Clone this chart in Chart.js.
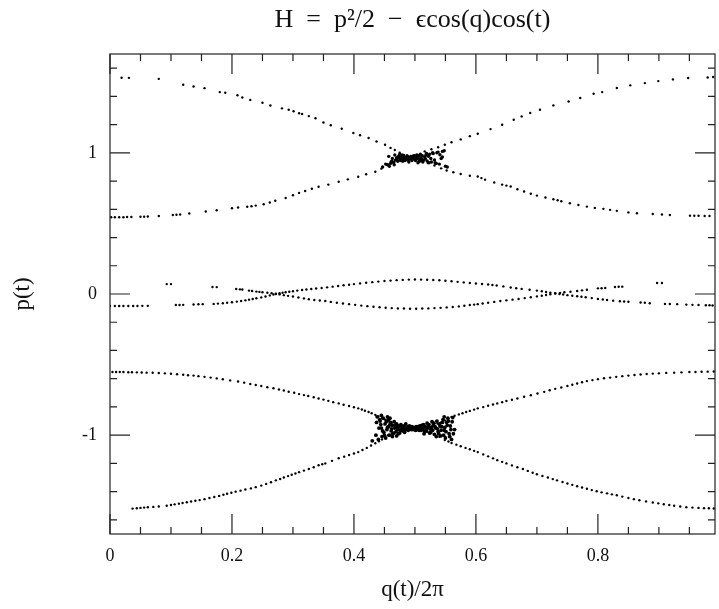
<!DOCTYPE html>
<html>
<head>
<meta charset="utf-8">
<script src="https://cdn.jsdelivr.net/npm/chart.js@4.4.1/dist/chart.umd.min.js"></script>
<style>
  html, body { margin: 0; padding: 0; background: #fff; }
  #wrap { width: 719px; height: 609px; }
</style>
</head>
<body>
<div id="wrap"><canvas id="chart"></canvas></div>
<script>
// tick labels
const xTickValues = [0, 0.2, 0.4, 0.6, 0.8];
const yTickValues = [-1, 0, 1];

// Poincare section as [q/2pi, p]
// upper resonance (around p = 1)
const upperFallLeft = [
  [0.019, 1.532], [0.031, 1.531], [0.080, 1.524], [0.120, 1.482], [0.137, 1.470],
  [0.155, 1.458], [0.180, 1.430], [0.189, 1.425], [0.209, 1.408], [0.217, 1.392],
  [0.230, 1.375], [0.250, 1.355], [0.263, 1.335], [0.282, 1.315], [0.293, 1.305],
  [0.301, 1.295], [0.310, 1.280], [0.315, 1.275], [0.326, 1.260], [0.337, 1.245],
  [0.350, 1.215], [0.362, 1.195], [0.380, 1.170], [0.399, 1.140], [0.410, 1.125],
  [0.424, 1.105], [0.437, 1.080], [0.451, 1.057], [0.460, 1.035], [0.467, 1.020],
  [0.475, 1.000], [0.482, 0.985]
];
const upperFallRight = [
  [0.500, 0.950], [0.510, 0.940], [0.521, 0.928], [0.532, 0.910], [0.543, 0.890],
  [0.552, 0.875], [0.563, 0.862], [0.575, 0.850], [0.590, 0.838], [0.603, 0.832],
  [0.609, 0.821], [0.615, 0.810], [0.630, 0.790], [0.643, 0.775], [0.650, 0.768],
  [0.657, 0.761], [0.668, 0.742], [0.679, 0.726], [0.690, 0.710], [0.700, 0.697],
  [0.714, 0.684], [0.727, 0.671], [0.734, 0.664], [0.740, 0.657], [0.754, 0.643],
  [0.768, 0.630], [0.782, 0.619], [0.795, 0.610], [0.809, 0.603], [0.820, 0.596],
  [0.831, 0.589], [0.850, 0.578], [0.864, 0.572], [0.890, 0.567], [0.905, 0.563],
  [0.918, 0.560], [0.951, 0.555], [0.958, 0.554], [0.965, 0.554], [0.975, 0.553],
  [0.983, 0.553]
];
const upperRiseLeft = [
  [0.002, 0.544], [0.008, 0.544], [0.015, 0.544], [0.022, 0.544], [0.028, 0.545],
  [0.035, 0.545], [0.050, 0.547], [0.056, 0.548], [0.062, 0.549], [0.080, 0.552],
  [0.103, 0.560], [0.109, 0.561], [0.115, 0.563], [0.130, 0.570], [0.157, 0.584],
  [0.175, 0.593], [0.200, 0.607], [0.210, 0.613], [0.225, 0.618], [0.232, 0.622],
  [0.239, 0.626], [0.252, 0.636], [0.262, 0.648], [0.271, 0.660], [0.288, 0.680],
  [0.300, 0.700], [0.310, 0.716], [0.320, 0.730], [0.331, 0.745], [0.342, 0.760],
  [0.358, 0.775], [0.375, 0.795], [0.390, 0.812], [0.407, 0.830], [0.420, 0.848],
  [0.435, 0.866], [0.445, 0.888], [0.456, 0.915], [0.466, 0.935], [0.476, 0.950]
];
const upperRiseRight = [
  [0.505, 0.985], [0.516, 1.010], [0.527, 1.025], [0.538, 1.040], [0.549, 1.057],
  [0.560, 1.075], [0.575, 1.095], [0.590, 1.118], [0.603, 1.135], [0.624, 1.168],
  [0.643, 1.199], [0.662, 1.234], [0.675, 1.258], [0.689, 1.282], [0.705, 1.305],
  [0.727, 1.336], [0.752, 1.364], [0.771, 1.388], [0.793, 1.418], [0.807, 1.430],
  [0.831, 1.459], [0.853, 1.478], [0.877, 1.494], [0.899, 1.508], [0.923, 1.520],
  [0.948, 1.530], [0.980, 1.534], [0.989, 1.537]
];
const upperChaos = [
  [0.455, 0.915], [0.460, 0.925], [0.462, 0.940], [0.465, 0.930], [0.468, 0.948],
  [0.470, 0.955], [0.472, 0.940], [0.474, 0.962], [0.476, 0.950], [0.478, 0.970],
  [0.480, 0.958], [0.481, 0.975], [0.483, 0.962], [0.485, 0.968], [0.486, 0.955],
  [0.488, 0.972], [0.490, 0.960], [0.492, 0.966], [0.494, 0.958], [0.496, 0.970],
  [0.498, 0.962], [0.500, 0.955], [0.502, 0.968], [0.504, 0.960], [0.506, 0.975],
  [0.508, 0.952], [0.510, 0.965], [0.512, 0.980], [0.514, 0.948], [0.516, 0.970],
  [0.518, 0.985], [0.520, 0.942], [0.522, 0.975], [0.524, 0.990], [0.527, 0.935],
  [0.530, 0.995], [0.533, 0.930], [0.536, 1.000], [0.540, 0.920], [0.545, 1.010],
  [0.550, 0.905], [0.541, 0.986], [0.545, 0.970], [0.461, 0.936], [0.447, 0.900],
  [0.467, 0.985], [0.475, 0.990], [0.490, 0.935], [0.484, 0.945], [0.497, 0.978],
  [0.470, 0.965], [0.473, 0.975], [0.477, 0.945], [0.479, 0.985], [0.482, 0.950],
  [0.487, 0.980], [0.489, 0.948], [0.493, 0.975], [0.495, 0.945], [0.499, 0.980],
  [0.501, 0.945], [0.503, 0.985], [0.507, 0.940], [0.509, 0.990], [0.511, 0.955],
  [0.513, 0.935], [0.517, 0.958], [0.519, 0.995], [0.523, 0.930], [0.526, 0.960],
  [0.529, 1.000], [0.532, 0.950], [0.535, 0.925], [0.538, 1.005], [0.543, 0.960],
  [0.548, 1.015], [0.553, 0.900], [0.466, 0.915], [0.463, 0.960], [0.458, 0.905],
  [0.452, 0.920], [0.457, 0.975], [0.480, 0.940], [0.505, 0.930]
];

// island band around p = 0
const midUpper = [
  [0.000, -0.085], [0.008, -0.085], [0.015, -0.085], [0.022, -0.085], [0.030, -0.085],
  [0.038, -0.085], [0.045, -0.085], [0.053, -0.084], [0.062, -0.084], [0.108, -0.078],
  [0.114, -0.078], [0.120, -0.077], [0.137, -0.074], [0.145, -0.073], [0.152, -0.072],
  [0.170, -0.070], [0.177, -0.068], [0.185, -0.065], [0.192, -0.062], [0.200, -0.058],
  [0.208, -0.054], [0.215, -0.050], [0.222, -0.045], [0.228, -0.040], [0.234, -0.035],
  [0.240, -0.030], [0.248, -0.024], [0.255, -0.018], [0.262, -0.010], [0.268, -0.004],
  [0.272, 0.000], [0.278, 0.005], [0.283, 0.009], [0.288, 0.012], [0.294, 0.016],
  [0.300, 0.020], [0.307, 0.024], [0.315, 0.028], [0.322, 0.032], [0.330, 0.035],
  [0.338, 0.039], [0.347, 0.042], [0.356, 0.047], [0.365, 0.052], [0.374, 0.057],
  [0.383, 0.062], [0.392, 0.066], [0.400, 0.070], [0.410, 0.075], [0.420, 0.080],
  [0.430, 0.084], [0.440, 0.088], [0.450, 0.092], [0.460, 0.095], [0.470, 0.098],
  [0.480, 0.100], [0.490, 0.102], [0.500, 0.103], [0.510, 0.102], [0.520, 0.101],
  [0.530, 0.099], [0.540, 0.097], [0.550, 0.094], [0.560, 0.090], [0.570, 0.086],
  [0.580, 0.082], [0.590, 0.078], [0.600, 0.074], [0.610, 0.071], [0.620, 0.067],
  [0.627, 0.064], [0.634, 0.060], [0.645, 0.054], [0.657, 0.046], [0.666, 0.041],
  [0.675, 0.036], [0.688, 0.030], [0.700, 0.024], [0.708, 0.019], [0.715, 0.014],
  [0.722, 0.010], [0.730, 0.005], [0.737, 0.000], [0.743, -0.004], [0.750, -0.008],
  [0.758, -0.012], [0.766, -0.016], [0.773, -0.019], [0.780, -0.023], [0.790, -0.029],
  [0.800, -0.035], [0.808, -0.039], [0.815, -0.042], [0.825, -0.047], [0.836, -0.051],
  [0.843, -0.053], [0.850, -0.055], [0.870, -0.060], [0.877, -0.062], [0.885, -0.065],
  [0.910, -0.070], [0.918, -0.071], [0.930, -0.072], [0.945, -0.075], [0.955, -0.077],
  [0.965, -0.078], [0.977, -0.080], [0.983, -0.080], [0.988, -0.081]
];
const midLower = [
  [0.093, 0.070], [0.100, 0.070], [0.168, 0.050], [0.175, 0.049], [0.207, 0.035],
  [0.213, 0.033], [0.217, 0.032], [0.228, 0.024], [0.233, 0.021], [0.240, 0.017],
  [0.245, 0.015], [0.250, 0.012], [0.258, 0.009], [0.265, 0.006], [0.272, 0.002],
  [0.278, -0.003], [0.285, -0.008], [0.292, -0.013], [0.300, -0.018], [0.309, -0.025],
  [0.318, -0.031], [0.326, -0.037], [0.335, -0.042], [0.344, -0.046], [0.353, -0.050],
  [0.362, -0.056], [0.372, -0.062], [0.382, -0.067], [0.392, -0.072], [0.402, -0.077],
  [0.412, -0.082], [0.422, -0.086], [0.432, -0.090], [0.442, -0.094], [0.452, -0.097],
  [0.462, -0.100], [0.472, -0.102], [0.482, -0.103], [0.492, -0.104], [0.502, -0.104],
  [0.512, -0.103], [0.522, -0.102], [0.532, -0.100], [0.542, -0.098], [0.552, -0.095],
  [0.562, -0.092], [0.572, -0.088], [0.581, -0.083], [0.590, -0.078], [0.597, -0.075],
  [0.603, -0.072], [0.611, -0.067], [0.620, -0.062], [0.630, -0.056], [0.640, -0.050],
  [0.650, -0.045], [0.660, -0.040], [0.670, -0.035], [0.680, -0.029], [0.690, -0.023],
  [0.700, -0.017], [0.708, -0.012], [0.715, -0.007], [0.722, -0.002], [0.730, 0.004],
  [0.738, 0.008], [0.745, 0.012], [0.755, 0.016], [0.766, 0.021], [0.774, 0.026],
  [0.782, 0.030], [0.800, 0.040], [0.806, 0.041], [0.812, 0.042], [0.828, 0.050],
  [0.834, 0.051], [0.840, 0.052], [0.897, 0.078], [0.905, 0.078]
];

// lower resonance (around p = -1)
const lowerFallLeft = [
  [0.004, -0.553], [0.010, -0.553], [0.016, -0.553], [0.022, -0.553], [0.030, -0.554],
  [0.036, -0.554], [0.044, -0.555], [0.052, -0.556], [0.060, -0.557], [0.070, -0.558],
  [0.080, -0.560], [0.090, -0.562], [0.100, -0.565], [0.110, -0.568], [0.120, -0.572],
  [0.128, -0.575], [0.137, -0.578], [0.145, -0.582], [0.155, -0.587], [0.165, -0.592],
  [0.175, -0.598], [0.185, -0.604], [0.197, -0.612], [0.210, -0.620], [0.220, -0.628],
  [0.230, -0.637], [0.239, -0.645], [0.248, -0.652], [0.258, -0.660], [0.268, -0.668],
  [0.277, -0.676], [0.285, -0.684], [0.293, -0.692], [0.302, -0.700], [0.310, -0.709],
  [0.318, -0.716], [0.325, -0.722], [0.334, -0.731], [0.342, -0.740], [0.350, -0.748],
  [0.358, -0.757], [0.366, -0.766], [0.375, -0.775], [0.383, -0.784], [0.392, -0.793],
  [0.400, -0.802], [0.407, -0.810], [0.413, -0.818], [0.418, -0.827], [0.424, -0.836],
  [0.429, -0.845], [0.435, -0.856], [0.440, -0.868], [0.446, -0.879], [0.451, -0.890],
  [0.457, -0.901], [0.462, -0.912], [0.468, -0.922], [0.473, -0.930]
];
const lowerFallRight = [
  [0.520, -0.975], [0.527, -0.985], [0.533, -0.995], [0.540, -1.012], [0.549, -1.035],
  [0.555, -1.045], [0.560, -1.055], [0.568, -1.067], [0.575, -1.078], [0.583, -1.090],
  [0.590, -1.100], [0.597, -1.111], [0.603, -1.120], [0.612, -1.136], [0.620, -1.150],
  [0.628, -1.164], [0.635, -1.177], [0.643, -1.189], [0.650, -1.200], [0.659, -1.214],
  [0.668, -1.227], [0.677, -1.240], [0.685, -1.253], [0.693, -1.266], [0.700, -1.277],
  [0.709, -1.289], [0.718, -1.300], [0.726, -1.311], [0.733, -1.320], [0.742, -1.332],
  [0.750, -1.342], [0.758, -1.352], [0.766, -1.362], [0.774, -1.371], [0.782, -1.380],
  [0.790, -1.389], [0.798, -1.397], [0.806, -1.405], [0.815, -1.412], [0.823, -1.419],
  [0.831, -1.425], [0.840, -1.435], [0.850, -1.445], [0.859, -1.453], [0.868, -1.461],
  [0.879, -1.469], [0.890, -1.477], [0.899, -1.483], [0.908, -1.489], [0.917, -1.495],
  [0.925, -1.500], [0.935, -1.505], [0.945, -1.510], [0.955, -1.513], [0.965, -1.515],
  [0.974, -1.517], [0.982, -1.518], [0.990, -1.519]
];
const lowerRiseLeft = [
  [0.037, -1.520], [0.044, -1.518], [0.050, -1.515], [0.056, -1.513], [0.062, -1.510],
  [0.071, -1.508], [0.080, -1.505], [0.093, -1.500], [0.100, -1.495], [0.106, -1.490],
  [0.113, -1.485], [0.119, -1.480], [0.126, -1.475], [0.133, -1.470], [0.140, -1.465],
  [0.147, -1.460], [0.155, -1.453], [0.163, -1.445], [0.171, -1.438], [0.179, -1.430],
  [0.186, -1.422], [0.192, -1.415], [0.199, -1.408], [0.206, -1.400], [0.214, -1.393],
  [0.222, -1.385], [0.231, -1.377], [0.239, -1.368], [0.248, -1.357], [0.256, -1.345],
  [0.264, -1.333], [0.272, -1.320], [0.279, -1.310], [0.285, -1.300], [0.292, -1.290],
  [0.298, -1.280], [0.304, -1.271], [0.310, -1.262], [0.318, -1.251], [0.326, -1.240],
  [0.334, -1.227], [0.342, -1.213], [0.348, -1.206], [0.353, -1.200], [0.364, -1.182],
  [0.375, -1.163], [0.384, -1.152], [0.392, -1.140], [0.400, -1.130], [0.407, -1.120],
  [0.414, -1.105], [0.421, -1.090], [0.428, -1.073], [0.435, -1.057], [0.441, -1.043],
  [0.446, -1.030], [0.451, -1.015], [0.456, -1.000], [0.462, -0.990], [0.468, -0.980]
];
const lowerRiseRight = [
  [0.530, -0.925], [0.537, -0.918], [0.543, -0.910], [0.549, -0.895], [0.554, -0.880],
  [0.560, -0.871], [0.565, -0.862], [0.572, -0.853], [0.578, -0.845], [0.584, -0.836],
  [0.590, -0.828], [0.597, -0.819], [0.603, -0.810], [0.612, -0.801], [0.620, -0.792],
  [0.628, -0.783], [0.635, -0.775], [0.643, -0.766], [0.650, -0.758], [0.659, -0.749],
  [0.668, -0.740], [0.679, -0.728], [0.690, -0.717], [0.701, -0.705], [0.712, -0.693],
  [0.721, -0.682], [0.730, -0.672], [0.740, -0.662], [0.750, -0.652], [0.758, -0.643],
  [0.766, -0.634], [0.774, -0.625], [0.782, -0.617], [0.791, -0.610], [0.800, -0.603],
  [0.810, -0.597], [0.820, -0.592], [0.830, -0.587], [0.840, -0.582], [0.850, -0.578],
  [0.860, -0.574], [0.870, -0.570], [0.880, -0.567], [0.890, -0.564], [0.900, -0.562],
  [0.912, -0.559], [0.925, -0.557], [0.937, -0.555], [0.950, -0.553], [0.960, -0.552],
  [0.970, -0.551], [0.980, -0.550], [0.990, -0.549]
];
const lowerChaos = [
  [0.438, -0.870], [0.440, -1.030], [0.443, -0.900], [0.445, -0.950], [0.446, -1.010],
  [0.448, -0.880], [0.449, -0.980], [0.451, -0.920], [0.452, -1.020], [0.454, -0.960],
  [0.456, -0.890], [0.457, -0.940], [0.458, -1.000], [0.460, -0.910], [0.461, -0.970],
  [0.463, -0.930], [0.464, -0.990], [0.466, -0.905], [0.467, -0.950], [0.469, -0.975],
  [0.470, -0.920], [0.472, -0.960], [0.474, -0.940], [0.475, -0.985], [0.477, -0.925],
  [0.478, -0.955], [0.480, -0.970], [0.482, -0.935], [0.484, -0.950], [0.486, -0.960],
  [0.488, -0.940], [0.490, -0.955], [0.492, -0.945], [0.494, -0.960], [0.496, -0.950],
  [0.498, -0.945], [0.500, -0.955], [0.502, -0.940], [0.504, -0.960], [0.506, -0.950],
  [0.508, -0.935], [0.510, -0.965], [0.512, -0.945], [0.514, -0.925], [0.516, -0.975],
  [0.518, -0.955], [0.520, -0.915], [0.522, -0.940], [0.524, -0.985], [0.526, -0.960],
  [0.528, -0.905], [0.530, -0.930], [0.532, -0.995], [0.534, -0.950], [0.536, -0.900],
  [0.538, -0.975], [0.540, -0.920], [0.542, -1.005], [0.544, -0.940], [0.546, -0.890],
  [0.548, -0.965], [0.550, -1.020], [0.552, -0.910], [0.554, -0.880], [0.556, -0.990],
  [0.558, -0.935], [0.560, -1.030], [0.562, -0.875], [0.565, -0.960], [0.470, -1.005],
  [0.455, -0.870], [0.445, -0.860], [0.535, -1.010], [0.548, -0.870], [0.430, -1.040],
  [0.485, -0.920], [0.515, -0.990], [0.442, -0.890], [0.444, -0.925], [0.447, -0.970],
  [0.450, -1.000], [0.453, -0.905], [0.455, -0.945], [0.459, -0.925], [0.462, -0.955],
  [0.465, -0.985], [0.468, -0.935], [0.471, -0.945], [0.473, -0.990], [0.476, -0.965],
  [0.479, -0.940], [0.481, -0.960], [0.483, -0.980], [0.487, -0.950], [0.489, -0.965],
  [0.491, -0.935], [0.495, -0.940], [0.497, -0.960], [0.501, -0.965], [0.503, -0.950],
  [0.505, -0.940], [0.507, -0.965], [0.509, -0.950], [0.511, -0.930], [0.513, -0.960],
  [0.517, -0.940], [0.519, -0.970], [0.521, -0.950], [0.523, -0.925], [0.525, -0.980],
  [0.527, -0.945], [0.529, -0.965], [0.531, -0.915], [0.533, -0.940], [0.537, -0.955],
  [0.539, -0.990], [0.541, -0.935], [0.543, -0.965], [0.545, -0.910], [0.547, -1.000],
  [0.549, -0.945], [0.551, -0.975], [0.553, -0.930], [0.555, -0.900], [0.557, -1.010],
  [0.559, -0.960], [0.561, -0.905], [0.563, -0.990], [0.459, -0.880], [0.463, -1.010],
  [0.441, -0.950], [0.437, -0.910], [0.436, -1.000]
];

const curves = [
  upperFallLeft, upperFallRight, upperRiseLeft, upperRiseRight,
  midUpper, midLower,
  lowerFallLeft, lowerFallRight, lowerRiseLeft, lowerRiseRight
];

function toPts(arr) {
  return arr.map(function (d) { return { x: d[0], y: d[1] }; });
}

const datasets = curves.map(function (c) {
  return { data: toPts(c), pointRadius: 1.2 };
});
datasets.push({ data: toPts(upperChaos), pointRadius: 1.7 });
datasets.push({ data: toPts(lowerChaos), pointRadius: 1.9 });

// frame + inward ticks on all four sides
const frameTicks = {
  id: 'frameTicks',
  afterDatasetsDraw(chart) {
    const ctx = chart.ctx;
    const a = chart.chartArea;
    const xs = chart.scales.x;
    const ys = chart.scales.y;
    ctx.save();
    ctx.strokeStyle = '#222';
    ctx.lineWidth = 1.2;
    ctx.strokeRect(a.left, a.top, a.right - a.left, a.bottom - a.top);
    ctx.beginPath();
    for (let i = 0; i <= 20; i++) {
      const px = xs.getPixelForValue(i * 0.05);
      if (px > a.right) continue;
      const len = (i % 4 === 0) ? 20 : 7;
      ctx.moveTo(px, a.bottom); ctx.lineTo(px, a.bottom - len);
      ctx.moveTo(px, a.top); ctx.lineTo(px, a.top + len);
    }
    for (let i = -8; i <= 8; i++) {
      const py = ys.getPixelForValue(i * 0.2);
      const len = (i % 5 === 0) ? 20 : 7;
      ctx.moveTo(a.left, py); ctx.lineTo(a.left + len, py);
      ctx.moveTo(a.right, py); ctx.lineTo(a.right - len, py);
    }
    ctx.stroke();
    ctx.restore();
  }
};

const serif = 'Liberation Serif';

new Chart(document.getElementById('chart'), {
  type: 'scatter',
  data: { datasets: datasets },
  options: {
    responsive: true,
    maintainAspectRatio: false,
    animation: false,
    layout: { padding: { left: 0, right: 1, top: 0, bottom: 0 } },
    elements: {
      point: { backgroundColor: '#000', borderWidth: 0, pointStyle: 'circle' }
    },
    plugins: {
      legend: { display: false },
      tooltip: { enabled: false },
      title: {
        display: true,
        fullSize: false,
        text: 'H  =  p²/2  −  ϵcos(q)cos(t)',
        color: '#111',
        font: { family: serif, size: 26, weight: 'normal' },
        padding: { top: 5, bottom: 17.8 }
      }
    },
    scales: {
      x: {
        type: 'linear',
        min: 0,
        max: 0.992,
        grid: { display: false, drawTicks: false },
        border: { display: false },
        afterBuildTicks: function (s) { s.ticks = xTickValues.map(function (v) { return { value: v }; }); },
        afterFit: function (s) { s.height = 75; },
        ticks: {
          color: '#111',
          padding: 11,
          maxRotation: 0,
          font: { family: serif, size: 18 },
          callback: function (v) { return String(v); }
        },
        title: {
          display: true,
          text: 'q(t)/2π',
          color: '#111',
          font: { family: serif, size: 23 },
          padding: { top: 0, bottom: 5 }
        }
      },
      y: {
        type: 'linear',
        min: -1.7,
        max: 1.7,
        grid: { display: false, drawTicks: false },
        border: { display: false },
        afterBuildTicks: function (s) { s.ticks = yTickValues.map(function (v) { return { value: v }; }); },
        afterFit: function (s) { s.width = 110; },
        ticks: {
          color: '#111',
          padding: 13,
          font: { family: serif, size: 18 },
          callback: function (v) { return String(v); }
        },
        title: {
          display: true,
          text: 'p(t)',
          color: '#111',
          font: { family: serif, size: 23 },
          padding: { top: 9, bottom: 0 }
        }
      }
    }
  },
  plugins: [frameTicks]
});
</script>
</body>
</html>
